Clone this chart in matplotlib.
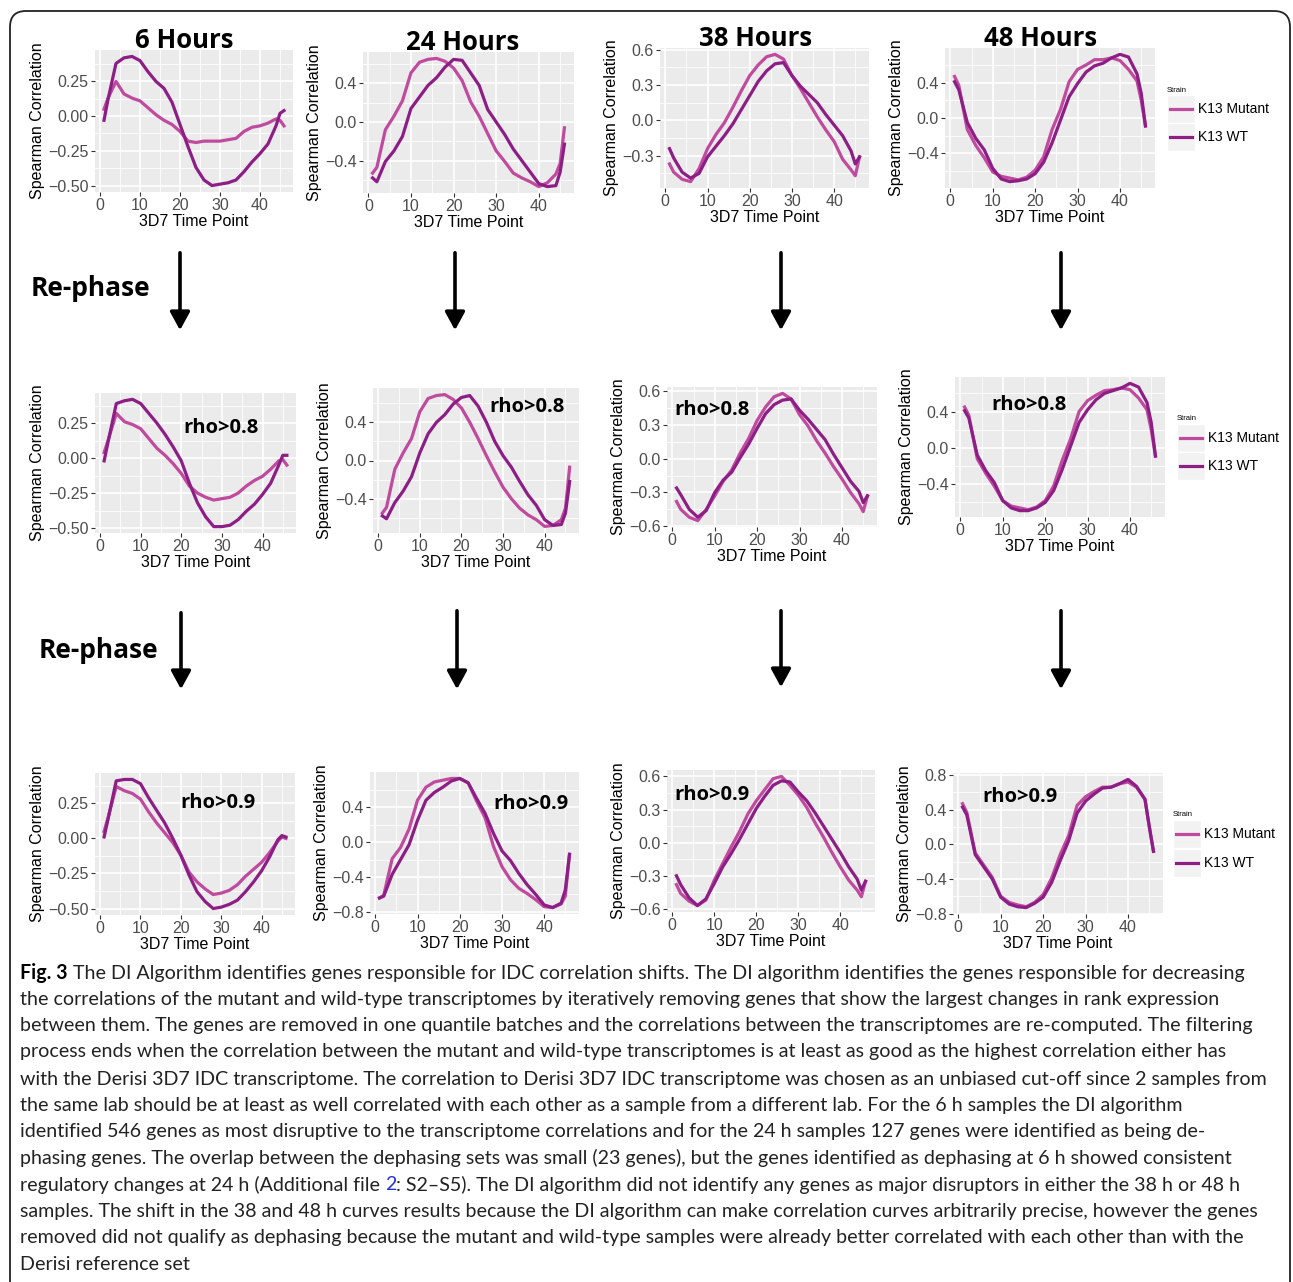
import matplotlib
matplotlib.use("Agg")
import matplotlib.pyplot as plt
from matplotlib.patches import FancyBboxPatch, FancyArrowPatch, Rectangle
from matplotlib.lines import Line2D
from matplotlib.transforms import Affine2D
from matplotlib.ticker import FixedLocator, FuncFormatter

plt.rcParams['font.family'] = ['Liberation Sans', 'DejaVu Sans']

# ---------------- data ----------------
time_points = [1, 2, 4, 6, 8, 10, 12, 14, 16, 18, 20, 22, 24, 26, 28, 30, 32, 34, 36, 38, 40, 42, 44, 45, 46]
strains = ["K13 Mutant", "K13 WT"]
hours = ["6 Hours", "24 Hours", "38 Hours", "48 Hours"]
filters = ["", "rho>0.8", "rho>0.9"]

# 6 h
h6_raw_mut = [0.05, 0.13, 0.25, 0.16, 0.13, 0.11, 0.06, 0.01, -0.03, -0.06, -0.11, -0.18, -0.19, -0.18, -0.18, -0.18, -0.17, -0.16, -0.11, -0.08, -0.07, -0.05, -0.02, -0.03, -0.07]
h6_raw_wt = [-0.03, 0.12, 0.38, 0.42, 0.43, 0.40, 0.32, 0.25, 0.20, 0.10, -0.06, -0.22, -0.37, -0.46, -0.50, -0.49, -0.48, -0.46, -0.40, -0.33, -0.27, -0.20, -0.07, 0.02, 0.04]
h6_r08_mut = [0.04, 0.13, 0.32, 0.26, 0.24, 0.21, 0.14, 0.07, 0.02, -0.04, -0.11, -0.20, -0.25, -0.28, -0.30, -0.29, -0.28, -0.25, -0.20, -0.16, -0.13, -0.08, -0.02, -0.01, -0.05]
h6_r08_wt = [-0.02, 0.12, 0.39, 0.41, 0.42, 0.39, 0.32, 0.25, 0.17, 0.08, -0.02, -0.18, -0.32, -0.42, -0.49, -0.49, -0.48, -0.44, -0.38, -0.33, -0.26, -0.18, -0.05, 0.02, 0.02]
h6_r09_mut = [0.05, 0.15, 0.37, 0.34, 0.32, 0.28, 0.19, 0.11, 0.04, -0.03, -0.12, -0.24, -0.31, -0.36, -0.40, -0.39, -0.37, -0.33, -0.27, -0.22, -0.17, -0.10, -0.02, 0.01, 0.00]
h6_r09_wt = [0.01, 0.14, 0.41, 0.42, 0.42, 0.39, 0.29, 0.20, 0.11, 0.00, -0.12, -0.26, -0.38, -0.45, -0.50, -0.49, -0.47, -0.44, -0.38, -0.31, -0.23, -0.13, -0.01, 0.02, 0.01]

# 24 h
h24_raw_mut = [-0.53, -0.47, -0.08, 0.06, 0.22, 0.51, 0.62, 0.65, 0.66, 0.63, 0.56, 0.43, 0.21, 0.06, -0.12, -0.30, -0.41, -0.53, -0.58, -0.62, -0.67, -0.63, -0.54, -0.43, -0.06]
h24_raw_wt = [-0.58, -0.62, -0.41, -0.30, -0.15, 0.14, 0.26, 0.38, 0.46, 0.57, 0.65, 0.64, 0.51, 0.38, 0.13, 0.00, -0.13, -0.28, -0.40, -0.52, -0.64, -0.67, -0.66, -0.52, -0.23]
h24_r08_mut = [-0.55, -0.49, -0.09, 0.08, 0.23, 0.51, 0.65, 0.68, 0.69, 0.64, 0.55, 0.40, 0.23, 0.05, -0.12, -0.28, -0.40, -0.50, -0.57, -0.62, -0.69, -0.68, -0.62, -0.50, -0.07]
h24_r08_wt = [-0.58, -0.61, -0.44, -0.32, -0.17, 0.08, 0.28, 0.40, 0.48, 0.59, 0.66, 0.68, 0.57, 0.40, 0.20, 0.05, -0.07, -0.22, -0.36, -0.47, -0.62, -0.68, -0.67, -0.55, -0.22]
h24_r09_mut = [-0.64, -0.61, -0.19, -0.06, 0.15, 0.48, 0.63, 0.69, 0.71, 0.73, 0.73, 0.68, 0.47, 0.28, -0.05, -0.28, -0.43, -0.53, -0.59, -0.66, -0.74, -0.75, -0.71, -0.62, -0.14]
h24_r09_wt = [-0.64, -0.62, -0.37, -0.20, -0.03, 0.25, 0.48, 0.57, 0.63, 0.70, 0.73, 0.68, 0.50, 0.33, 0.10, -0.10, -0.21, -0.36, -0.49, -0.60, -0.72, -0.75, -0.70, -0.55, -0.14]

# 38 h
h38_raw_mut = [-0.37, -0.44, -0.50, -0.52, -0.41, -0.24, -0.12, -0.02, 0.11, 0.25, 0.38, 0.47, 0.54, 0.56, 0.52, 0.38, 0.27, 0.15, 0.03, -0.08, -0.18, -0.33, -0.42, -0.47, -0.31]
h38_raw_wt = [-0.24, -0.32, -0.44, -0.49, -0.45, -0.31, -0.22, -0.13, -0.03, 0.09, 0.21, 0.33, 0.42, 0.48, 0.49, 0.38, 0.29, 0.22, 0.15, 0.05, -0.04, -0.13, -0.26, -0.37, -0.31]
h38_r08_mut = [-0.38, -0.45, -0.52, -0.55, -0.45, -0.33, -0.20, -0.10, 0.05, 0.18, 0.34, 0.46, 0.55, 0.58, 0.53, 0.39, 0.29, 0.16, 0.05, -0.07, -0.18, -0.30, -0.40, -0.47, -0.33]
h38_r08_wt = [-0.26, -0.32, -0.45, -0.52, -0.46, -0.30, -0.19, -0.12, 0.01, 0.13, 0.27, 0.40, 0.48, 0.52, 0.53, 0.43, 0.35, 0.26, 0.17, 0.04, -0.08, -0.20, -0.29, -0.39, -0.33]
h38_r09_mut = [-0.38, -0.46, -0.53, -0.57, -0.52, -0.34, -0.19, -0.04, 0.10, 0.26, 0.38, 0.48, 0.58, 0.60, 0.52, 0.43, 0.32, 0.18, 0.05, -0.09, -0.22, -0.34, -0.43, -0.49, -0.35]
h38_r09_wt = [-0.30, -0.38, -0.50, -0.57, -0.51, -0.37, -0.22, -0.10, 0.03, 0.17, 0.31, 0.42, 0.52, 0.56, 0.55, 0.46, 0.38, 0.27, 0.15, 0.03, -0.09, -0.22, -0.33, -0.43, -0.35]

# 48 h
h48_raw_mut = [0.47, 0.37, -0.13, -0.31, -0.45, -0.61, -0.66, -0.68, -0.70, -0.67, -0.59, -0.44, -0.13, 0.10, 0.41, 0.55, 0.60, 0.66, 0.66, 0.68, 0.65, 0.55, 0.42, 0.20, -0.09]
h48_raw_wt = [0.41, 0.32, -0.05, -0.23, -0.36, -0.57, -0.69, -0.72, -0.71, -0.69, -0.63, -0.50, -0.28, -0.02, 0.24, 0.39, 0.52, 0.59, 0.62, 0.68, 0.72, 0.69, 0.50, 0.28, -0.09]
h48_r08_mut = [0.45, 0.36, -0.12, -0.28, -0.42, -0.58, -0.64, -0.66, -0.68, -0.65, -0.58, -0.42, -0.14, 0.10, 0.40, 0.52, 0.58, 0.63, 0.64, 0.66, 0.64, 0.55, 0.42, 0.20, -0.09]
h48_r08_wt = [0.41, 0.33, -0.08, -0.25, -0.38, -0.58, -0.66, -0.69, -0.69, -0.66, -0.60, -0.47, -0.24, 0.02, 0.28, 0.42, 0.53, 0.60, 0.63, 0.66, 0.71, 0.67, 0.50, 0.28, -0.09]
h48_r09_mut = [0.47, 0.37, -0.10, -0.24, -0.38, -0.60, -0.67, -0.70, -0.72, -0.67, -0.58, -0.39, -0.12, 0.10, 0.45, 0.55, 0.61, 0.66, 0.66, 0.70, 0.72, 0.66, 0.52, 0.21, -0.08]
h48_r09_wt = [0.43, 0.34, -0.12, -0.26, -0.40, -0.61, -0.69, -0.72, -0.73, -0.68, -0.61, -0.44, -0.19, 0.04, 0.36, 0.50, 0.58, 0.65, 0.66, 0.70, 0.75, 0.67, 0.52, 0.21, -0.08]

# y tick values per column and row
yticks_6h = [-0.5, -0.25, 0.0, 0.25]
yticks_24h = [-0.4, 0.0, 0.4]
yticks_24h_r09 = [-0.8, -0.4, 0.0, 0.4]
yticks_38h = [-0.3, 0.0, 0.3, 0.6]
yticks_38h_filt = [-0.6, -0.3, 0.0, 0.3, 0.6]
yticks_48h = [-0.4, 0.0, 0.4]
yticks_48h_r09 = [-0.8, -0.4, 0.0, 0.4, 0.8]

caption_lines = [
    "The DI Algorithm identifies genes responsible for IDC correlation shifts. The DI algorithm identifies the genes responsible for decreasing",
    "the correlations of the mutant and wild-type transcriptomes by iteratively removing genes that show the largest changes in rank expression",
    "between them. The genes are removed in one quantile batches and the correlations between the transcriptomes are re-computed. The filtering",
    "process ends when the correlation between the mutant and wild-type transcriptomes is at least as good as the highest correlation either has",
    "with the Derisi 3D7 IDC transcriptome. The correlation to Derisi 3D7 IDC transcriptome was chosen as an unbiased cut-off since 2 samples from",
    "the same lab should be at least as well correlated with each other as a sample from a different lab. For the 6 h samples the DI algorithm",
    "identified 546 genes as most disruptive to the transcriptome correlations and for the 24 h samples 127 genes were identified as being de-",
    "phasing genes. The overlap between the dephasing sets was small (23 genes), but the genes identified as dephasing at 6 h showed consistent",
    "regulatory changes at 24 h (Additional file |2|: S2\u2013S5). The DI algorithm did not identify any genes as major disruptors in either the 38 h or 48 h",
    "samples. The shift in the 38 and 48 h curves results because the DI algorithm can make correlation curves arbitrarily precise, however the genes",
    "removed did not qualify as dephasing because the mutant and wild-type samples were already better correlated with each other than with the",
    "Derisi reference set",
]

# ---------------- figure ----------------
W, H = 1293, 1282
fig = plt.figure(figsize=(W / 100, H / 100), dpi=100)
pix = Affine2D().scale(1 / W, -1 / H).translate(0, 1) + fig.transFigure

MUT_COLOR = "#C04A9E"
WT_COLOR = "#8C1E86"
LW = 2.3

series = [
    [(h6_raw_mut, h6_raw_wt), (h24_raw_mut, h24_raw_wt), (h38_raw_mut, h38_raw_wt), (h48_raw_mut, h48_raw_wt)],
    [(h6_r08_mut, h6_r08_wt), (h24_r08_mut, h24_r08_wt), (h38_r08_mut, h38_r08_wt), (h48_r08_mut, h48_r08_wt)],
    [(h6_r09_mut, h6_r09_wt), (h24_r09_mut, h24_r09_wt), (h38_r09_mut, h38_r09_wt), (h48_r09_mut, h48_r09_wt)],
]
ticks = [
    [yticks_6h, yticks_24h, yticks_38h, yticks_48h],
    [yticks_6h, yticks_24h, yticks_38h_filt, yticks_48h],
    [yticks_6h, yticks_24h_r09, yticks_38h_filt, yticks_48h_r09],
]
fmts = ["{:.2f}", "{:.1f}", "{:.1f}", "{:.1f}"]

# panel boxes in pixels (x0, y0, x1, y1)
boxes = [
    [(95, 50, 293, 192), (363, 52, 574, 193), (660, 48, 869, 188), (945, 48, 1155, 188)],
    [(95, 393, 296, 533), (373, 388, 579, 533), (667, 387, 877, 527), (955, 377, 1165, 517)],
    [(95, 773, 295, 915), (370, 772, 579, 914), (667, 770, 875, 912), (953, 773, 1163, 914)],
]


def make_fmt(f):
    return FuncFormatter(lambda v, p: f.format(v).replace("-", "\u2212"))


for r in range(3):
    for c in range(4):
        x0, y0, x1, y1 = boxes[r][c]
        ax = fig.add_axes([x0 / W, 1 - y1 / H, (x1 - x0) / W, (y1 - y0) / H])
        mut, wt = series[r][c]
        ax.plot(time_points, mut, color=MUT_COLOR, lw=LW, solid_joinstyle="round", label=strains[0], zorder=3)
        ax.plot(time_points, wt, color=WT_COLOR, lw=LW, solid_joinstyle="round", label=strains[1], zorder=3)
        ax.set_facecolor("#EBEBEB")
        for s in ax.spines.values():
            s.set_visible(False)
        ax.xaxis.set_major_locator(FixedLocator([0, 10, 20, 30, 40]))
        ax.xaxis.set_minor_locator(FixedLocator([5, 15, 25, 35, 45]))
        yt = ticks[r][c]
        step = yt[1] - yt[0]
        ax.yaxis.set_major_locator(FixedLocator(yt))
        ax.yaxis.set_minor_locator(FixedLocator([yt[0] - step / 2] + [t + step / 2 for t in yt]))
        ax.yaxis.set_major_formatter(make_fmt(fmts[c]))
        ax.grid(which="major", color="white", lw=1.2)
        ax.grid(which="minor", color="white", lw=0.6)
        ax.set_axisbelow(True)
        ax.tick_params(which="major", length=3, width=0.8, color="#333333",
                       labelsize=11.5, labelcolor="#4D4D4D", pad=1.5)
        ax.tick_params(which="minor", length=0)
        ax.set_xlabel("3D7 Time Point", fontsize=11.5, labelpad=0.5)
        ax.set_ylabel("Spearman Correlation", fontsize=11.5, labelpad=2)

# ---------------- titles / annotations ----------------
title_pos = [(184, 40), (463, 42), (756, 38), (1041, 38)]
for (x, y), t in zip(title_pos, hours):
    fig.text(x, y, t, transform=pix, fontsize=18.5, family="Open Sans", weight="bold",
             ha="center", va="center")

for (x, y) in [(90, 288), (98, 651)]:
    fig.text(x, y, "Re-phase", transform=pix, fontsize=19, family="Open Sans", weight="bold",
             ha="center", va="center")

rho_pos = [
    [(221, 428), (527, 407), (712, 410), (1029, 405)],
    [(218, 803), (531, 804), (712, 795), (1020, 797)],
]
for i, row in enumerate(rho_pos):
    for (x, y) in row:
        fig.text(x, y, filters[i + 1], transform=pix, fontsize=14.5, family="Open Sans",
                 weight="bold", ha="center", va="center")

# arrows
arrows = [
    (180, 250, 333), (455, 250, 333), (781, 250, 333), (1061, 250, 333),
    (181, 610, 692), (457, 608, 692), (781, 608, 690), (1061, 608, 692),
]
for x, ya, yb in arrows:
    fig.add_artist(FancyArrowPatch((x, ya), (x, yb), transform=pix,
                                   arrowstyle="-|>,head_length=0.55,head_width=0.3",
                                   mutation_scale=20, lw=2.6, color="black"))

# legends
legend_pos = [((1167, 90), 1167, [109, 137]), ((1177, 418), 1177, [438, 466]), ((1173, 814), 1173, [834, 863])]
for (tx, ty), kx, ys in legend_pos:
    fig.text(tx, ty, "Strain", transform=pix, fontsize=5.5, ha="left", va="center")
    for yy, lab, col in zip(ys, strains, [MUT_COLOR, WT_COLOR]):
        fig.add_artist(Rectangle((kx, yy - 14), 28, 28, transform=pix, facecolor="#F2F2F2",
                                 edgecolor="white", lw=1))
        fig.add_artist(Line2D([kx + 3, kx + 25], [yy, yy], transform=pix, color=col, lw=LW))
        fig.text(kx + 31, yy, lab, transform=pix, fontsize=10, ha="left", va="center")

# border
fig.add_artist(FancyBboxPatch((10, 11), 1280, 1300, transform=pix,
                              boxstyle="round,pad=0,rounding_size=16",
                              facecolor="none", edgecolor="#222222", lw=1.3))

# caption
renderer = fig.canvas.get_renderer()
line_y = [973, 999, 1026, 1052, 1079, 1105, 1132, 1158, 1185, 1211, 1238, 1265]
CAP_FONT = "Lato"
CAP_SIZE = 14.1
for i, (y, line) in enumerate(zip(line_y, caption_lines)):
    segs = []
    if i == 0:
        segs.append(("Fig. 3", "bold", "black"))
        segs.append((" " + line, "normal", "#222222"))
    elif "|" in line:
        a, b, cpart = line.split("|")
        segs = [(a, "normal", "#222222"), (b, "normal", "#2233DD"), (cpart, "normal", "#222222")]
    else:
        segs = [(line, "normal", "#222222")]
    x = 20
    for txt, wgt, col in segs:
        t = fig.text(x, y, txt, transform=pix, fontsize=CAP_SIZE, family=CAP_FONT,
                     weight=wgt, color=col, ha="left", va="center")
        x += t.get_window_extent(renderer).width

fig.savefig("out.png", dpi=100)
